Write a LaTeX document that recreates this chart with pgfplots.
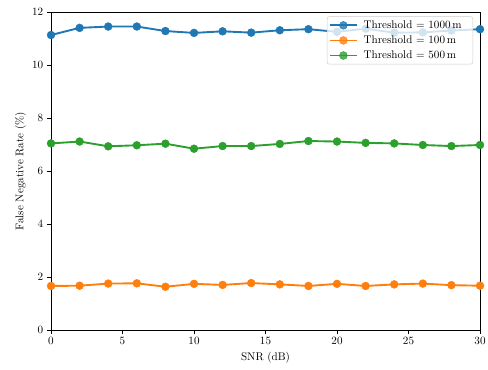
\documentclass[border=0pt]{standalone}
\usepackage{pgfplots}
\pgfplotsset{compat=1.18}
\definecolor{c0}{HTML}{1F77B4}
\definecolor{c1}{HTML}{FF7F0E}
\definecolor{c2}{HTML}{2CA02C}
\begin{document}
\begin{tikzpicture}
\begin{axis}[
  scale only axis,
  width=386.8pt, height=286.7pt,
  xmin=0, xmax=30, ymin=0, ymax=12,
  xtick={0,5,...,30}, ytick={0,2,...,12},
  tick align=outside, xtick pos=bottom, ytick pos=left,
  major tick length=3.5pt,
  tick style={black, line width=0.7pt},
  axis line style={line width=0.7pt},
  xlabel={SNR (dB)}, ylabel={False Negative Rate (\%)},
  ylabel style={yshift=-1.5pt},
  legend style={at={(0.9837,0.9858)}, anchor=north east, draw=black!20, rounded corners=2pt,
    fill=white, fill opacity=0.8, text opacity=1, font=\normalsize,
    nodes={inner sep=2pt, minimum height=13.6pt},
    inner xsep=1.6pt, inner ysep=1pt, row sep=0pt, column sep=3.2pt},
  legend cell align=left,
  legend image code/.code={\draw[mark repeat=2,mark phase=2,#1] plot coordinates {(0cm,0cm) (0.43cm,0cm) (0.86cm,0cm)};},
  every axis plot/.append style={line width=1.7pt, mark=*, mark size=3.55pt},
]
\addplot[c0, mark options={fill=c0, draw=c0, line width=0.4pt}] coordinates {
(0,11.13) (2,11.40) (4,11.45) (6,11.45) (8,11.28) (10,11.21) (12,11.27) (14,11.22)
(16,11.31) (18,11.35) (20,11.25) (22,11.37) (24,11.22) (26,11.23) (28,11.30) (30,11.35)};
\addlegendentry{Threshold = $1000\,$m\hspace*{6.4pt}}
\addplot[c1, mark options={fill=c1, draw=c1, line width=0.4pt}] coordinates {
(0,1.66) (2,1.67) (4,1.75) (6,1.76) (8,1.63) (10,1.74) (12,1.70) (14,1.77)
(16,1.72) (18,1.66) (20,1.74) (22,1.66) (24,1.72) (26,1.75) (28,1.69) (30,1.67)};
\addlegendentry{Threshold = $100\,$m}
\addplot[c2, mark options={fill=c2, draw=c2, line width=0.4pt}] coordinates {
(0,7.04) (2,7.11) (4,6.93) (6,6.97) (8,7.03) (10,6.84) (12,6.94) (14,6.94)
(16,7.02) (18,7.13) (20,7.11) (22,7.06) (24,7.04) (26,6.98) (28,6.94) (30,6.98)};
\addlegendentry{Threshold = $500\,$m}
\end{axis}
\pgfresetboundingbox
\path (current axis.south west) ++(-46pt,-36pt) rectangle ([shift={(7.2pt,10.8pt)}]current axis.north east);
\end{tikzpicture}
\end{document}
